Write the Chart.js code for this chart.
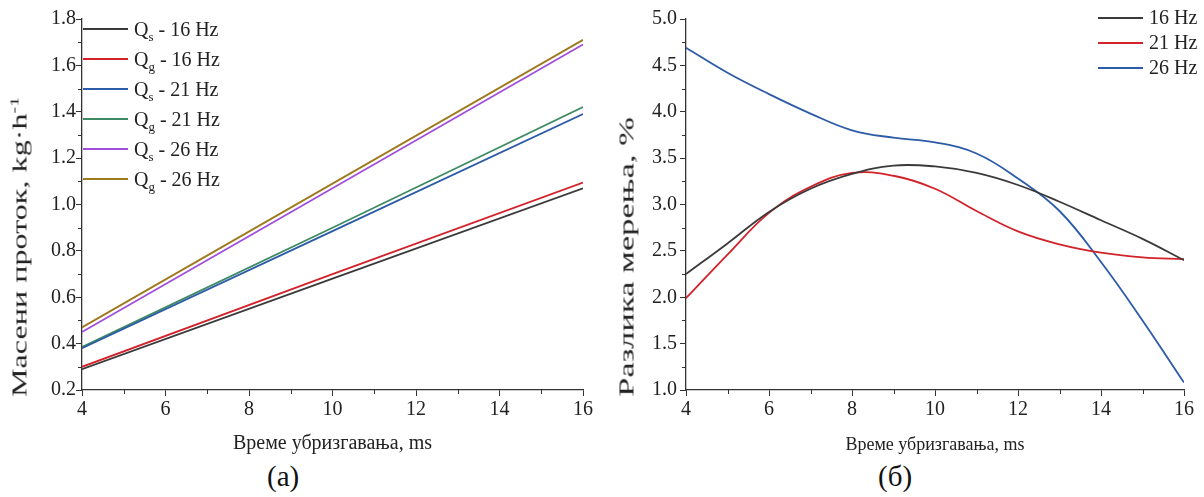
<!DOCTYPE html>
<html>
<head>
<meta charset="utf-8">
<script src="https://cdn.jsdelivr.net/npm/chart.js@4"></script>
<style>
  body { margin: 0; background: #fff; font-family: "Liberation Serif", "DejaVu Serif", serif; }
  #wrap { position: relative; width: 1204px; height: 497px; }
  .box { position: absolute; top: 0; height: 460px; }
  .legend { position: absolute; font-size: 20px; color: #222; }
  .legend .row { display: flex; align-items: center; height: 30px; white-space: nowrap; }
  .legend .ln { display: inline-block; width: 45px; height: 2px; margin-right: 6px; }
  .legend sub { font-size: 13px; vertical-align: -5px; line-height: 0; }
  .cap { position: absolute; top: 460px; font-size: 29px; color: #111; }
  .ytitle { position: absolute; font-size: 21px; color: #222; white-space: nowrap; line-height: 1; }
  .ytitle sup { font-size: 13px; vertical-align: 8px; line-height: 0; }
</style>
</head>
<body>
<div id="wrap">
  <div class="box" style="left:0;width:600px"><canvas id="grafA"></canvas></div>
  <div class="box" style="left:600px;width:604px"><canvas id="grafB"></canvas></div>

  <div class="legend" id="legA" style="left:83px;top:14px"></div>
  <div class="legend" id="legB" style="left:1098px;top:5px"></div>

  <div class="ytitle" id="ytA" data-len="300" style="left:20px;top:247px">Масени проток, kg·h<sup>-1</sup></div>
  <div class="ytitle" id="ytB" data-len="279" style="left:627px;top:257px">Разлика мерења, %</div>

  <div class="cap" style="left:267px">(a)</div>
  <div class="cap" style="left:878px">(б)</div>
</div>
<script>
// --- podaci (a) ---
var vreme_a = [4, 10, 16];
var qs_16 = [0.29, 0.68, 1.07];
var qg_16 = [0.30, 0.70, 1.095];
var qs_21 = [0.38, 0.885, 1.39];
var qg_21 = [0.385, 0.90, 1.42];
var qs_26 = [0.45, 1.07, 1.69];
var qg_26 = [0.47, 1.09, 1.71];

// --- podaci (б) ---
var vreme_b = [4, 5, 6, 7, 8, 9, 10, 11, 12, 13, 14, 15, 16];
var razlika_16 = [2.25, 2.58, 2.92, 3.17, 3.33, 3.42, 3.41, 3.34, 3.21, 3.03, 2.83, 2.63, 2.40];
var razlika_21 = [1.99, 2.46, 2.91, 3.19, 3.34, 3.31, 3.17, 2.93, 2.71, 2.57, 2.48, 2.43, 2.41];
var razlika_26 = [4.69, 4.42, 4.19, 3.98, 3.80, 3.72, 3.67, 3.55, 3.28, 2.93, 2.38, 1.75, 1.08];

var boje = {
  crna: '#3a3a3a', crvena: '#d2222a', plava: '#2c5ba8',
  zelena: '#3d8a63', ljubicasta: '#a04fdc', zlatna: '#9d7a1e'
};

function tacke(xs, ys) {
  return xs.map(function (x, i) { return { x: x, y: ys[i] }; });
}

// male podele izmedju glavnih podeoka
var minorTicks = {
  id: 'minorTicks',
  afterDraw: function (chart) {
    var ctx = chart.ctx;
    ctx.save();
    ctx.strokeStyle = '#333';
    ctx.lineWidth = 1;
    var xs = chart.scales.x, ys = chart.scales.y;
    var xt = xs.ticks, yt = ys.ticks;
    for (var i = 0; i < xt.length - 1; i++) {
      var px = Math.round(xs.getPixelForValue((xt[i].value + xt[i + 1].value) / 2)) + 0.5;
      ctx.beginPath(); ctx.moveTo(px, xs.top); ctx.lineTo(px, xs.top + 4); ctx.stroke();
    }
    for (var j = 0; j < yt.length - 1; j++) {
      var py = Math.round(ys.getPixelForValue((yt[j].value + yt[j + 1].value) / 2)) + 0.5;
      ctx.beginPath(); ctx.moveTo(ys.right, py); ctx.lineTo(ys.right - 4, py); ctx.stroke();
    }
    ctx.restore();
  }
};

var font_tick = { family: 'Liberation Serif', size: 20 };

function osa_x(naslov, velicina) {
  return {
    type: 'linear', min: 4, max: 16,
    ticks: { stepSize: 2, color: '#222', font: font_tick, padding: 2, maxRotation: 0 },
    grid: { drawOnChartArea: false, drawTicks: true, tickLength: 6, tickColor: '#333' },
    border: { display: true, color: '#333', width: 1.3 },
    title: { display: true, text: naslov, color: '#222',
      font: { family: 'Liberation Serif', size: velicina }, padding: { top: 4, bottom: 4 } },
    afterFit: function (s) { s.height = 70; }
  };
}

function osa_y(min, max, korak, sirina, razmak) {
  return {
    type: 'linear', min: min, max: max,
    ticks: { stepSize: korak, color: '#222', font: font_tick, padding: razmak,
      callback: function (v) { return Number(v).toFixed(1); } },
    grid: { drawOnChartArea: false, drawTicks: true, tickLength: 6, tickColor: '#333' },
    border: { display: true, color: '#333', width: 1.3 },
    afterFit: function (s) { s.width = sirina; }
  };
}

function linija(ime, xs, ys, boja, tenzija) {
  return {
    label: ime, data: tacke(xs, ys), borderColor: boja, backgroundColor: boja,
    borderWidth: 1.8, pointRadius: 0, tension: tenzija, fill: false
  };
}

var grafA = new Chart(document.getElementById('grafA'), {
  type: 'line',
  data: {
    datasets: [
      linija('Qs - 16 Hz', vreme_a, qs_16, boje.crna, 0),
      linija('Qg - 16 Hz', vreme_a, qg_16, boje.crvena, 0),
      linija('Qs - 21 Hz', vreme_a, qs_21, boje.plava, 0),
      linija('Qg - 21 Hz', vreme_a, qg_21, boje.zelena, 0),
      linija('Qs - 26 Hz', vreme_a, qs_26, boje.ljubicasta, 0),
      linija('Qg - 26 Hz', vreme_a, qg_26, boje.zlatna, 0)
    ]
  },
  options: {
    responsive: true, maintainAspectRatio: false, animation: false,
    layout: { padding: { top: 19, right: 17, left: 0, bottom: 0 } },
    plugins: { legend: { display: false }, tooltip: { enabled: false } },
    scales: {
      x: osa_x('Време убризгавања, ms', 20),
      y: osa_y(0.2, 1.8, 0.2, 82, 0)
    }
  },
  plugins: [minorTicks]
});

var grafB = new Chart(document.getElementById('grafB'), {
  type: 'line',
  data: {
    datasets: [
      linija('16 Hz', vreme_b, razlika_16, boje.crna, 0.4),
      linija('21 Hz', vreme_b, razlika_21, boje.crvena, 0.4),
      linija('26 Hz', vreme_b, razlika_26, boje.plava, 0.4)
    ]
  },
  options: {
    responsive: true, maintainAspectRatio: false, animation: false,
    layout: { padding: { top: 19, right: 20, left: 0, bottom: 0 } },
    plugins: { legend: { display: false }, tooltip: { enabled: false } },
    scales: {
      x: osa_x('Време убризгавања, ms', 18),
      y: osa_y(1, 5, 0.5, 86, 3)
    }
  },
  plugins: [minorTicks]
});

// legende (HTML, zbog indeksa)
function legenda(el, grafik, visina) {
  var html = '';
  grafik.data.datasets.forEach(function (d) {
    var t = d.label.replace(/^Q([sg])/, 'Q<sub>$1</sub>');
    html += '<div class="row" style="height:' + visina + 'px"><span class="ln" style="background:' +
      d.borderColor + '"></span><span>' + t + '</span></div>';
  });
  document.getElementById(el).innerHTML = html;
}
legenda('legA', grafA, 30);
legenda('legB', grafB, 25);

// naslovi y ose, uspravno i razvuceno kao na slici
['ytA', 'ytB'].forEach(function (id) {
  var el = document.getElementById(id);
  var k = Number(el.dataset.len) / el.offsetWidth;
  el.style.transform = 'translate(-50%,-50%) rotate(-90deg) scaleX(' + k.toFixed(3) + ')';
});
</script>
</body>
</html>
